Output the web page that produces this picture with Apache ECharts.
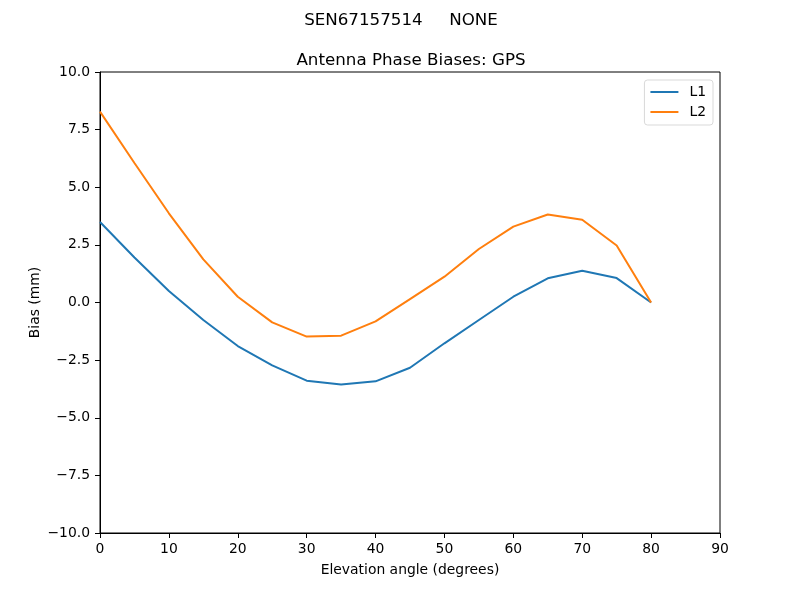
<!DOCTYPE html>
<html><head><meta charset="utf-8">
<script src="https://cdn.jsdelivr.net/npm/echarts@6/dist/echarts.min.js"></script>
<style>html,body{margin:0;padding:0;background:#fff}#c{width:800px;height:600px}</style>
</head><body><div id="c"></div>
<script>
const elevation = [0, 5, 10, 15, 20, 25, 30, 35, 40, 45, 50, 55, 60, 65, 70, 75, 80];
const L1 = [3.49, 1.95, 0.50, -0.76, -1.89, -2.73, -3.39, -3.56, -3.42, -2.83, -1.77, -0.76, 0.25, 1.05, 1.38, 1.06, 0.0];
const L2 = [8.28, 6.05, 3.87, 1.87, 0.25, -0.86, -1.48, -1.44, -0.82, 0.15, 1.12, 2.32, 3.29, 3.82, 3.59, 2.47, 0.0];
const xTicks = [0, 10, 20, 30, 40, 50, 60, 70, 80, 90];
const yTicks = [-10, -7.5, -5, -2.5, 0, 2.5, 5, 7.5, 10];

const font = 'DejaVu Sans';
const fs = 13.9;
const chart = echarts.init(document.getElementById('c'), null, {renderer: 'canvas'});
const fmtY = v => (v < 0 ? '\u2212' : '') + Math.abs(v).toFixed(1);
chart.setOption({
  animation: false,
  textStyle: {fontFamily: font},
  title: [
    {text: 'SEN67157514     NONE', left: 396, top: 7, textAlign: 'center',
     textStyle: {fontFamily: font, fontSize: 16.7, fontWeight: 'normal', color: '#000'}},
    {text: 'Antenna Phase Biases: GPS', left: 406, top: 47, textAlign: 'center',
     textStyle: {fontFamily: font, fontSize: 16.7, fontWeight: 'normal', color: '#000'}}
  ],
  legend: {
    orient: 'vertical', right: 87, top: 80,
    data: ['L1', 'L2'],
    icon: 'rect', itemWidth: 28, itemHeight: 2, itemGap: 6,
    padding: [5, 7, 6, 6],
    borderColor: '#d9d9d9', borderWidth: 1, borderRadius: 3,
    backgroundColor: 'rgba(255,255,255,0.8)',
    textStyle: {fontFamily: font, fontSize: fs, color: '#000', padding: [0, 0, 0, 6]}
  },
  grid: {left: 100, right: 80, top: 72, bottom: 67, containLabel: false,
         show: true, borderColor: '#000', borderWidth: 1},
  xAxis: {
    type: 'value', min: 0, max: 90, interval: 10,
    name: 'Elevation angle (degrees)', nameLocation: 'middle', nameGap: 30,
    nameMoveOverlap: false,
    nameTextStyle: {fontFamily: font, fontSize: fs, color: '#000'},
    axisLine: {show: true, onZero: false, lineStyle: {color: '#000', width: 1}},
    axisTick: {show: true, length: 5, lineStyle: {color: '#000'}},
    axisLabel: {fontFamily: font, fontSize: fs, color: '#000', margin: 9,
                customValues: xTicks},
    splitLine: {show: false}
  },
  yAxis: {
    type: 'value', min: -10, max: 10, interval: 2.5,
    name: 'Bias (mm)', nameLocation: 'middle', nameGap: 58, nameRotate: 90,
    nameMoveOverlap: false,
    nameTextStyle: {fontFamily: font, fontSize: fs, color: '#000'},
    axisLine: {show: true, onZero: false, lineStyle: {color: '#000', width: 1}},
    axisTick: {show: true, length: 5, lineStyle: {color: '#000'}},
    axisLabel: {fontFamily: font, fontSize: fs, color: '#000', margin: 10,
                formatter: fmtY, customValues: yTicks},
    splitLine: {show: false}
  },
  series: [
    {name: 'L1', type: 'line', data: elevation.map((e, i) => [e, L1[i]]),
     showSymbol: false, symbol: 'none', lineStyle: {color: '#1f77b4', width: 2},
     itemStyle: {color: '#1f77b4'}},
    {name: 'L2', type: 'line', data: elevation.map((e, i) => [e, L2[i]]),
     showSymbol: false, symbol: 'none', lineStyle: {color: '#ff7f0e', width: 2},
     itemStyle: {color: '#ff7f0e'}}
  ]
});
</script></body></html>
